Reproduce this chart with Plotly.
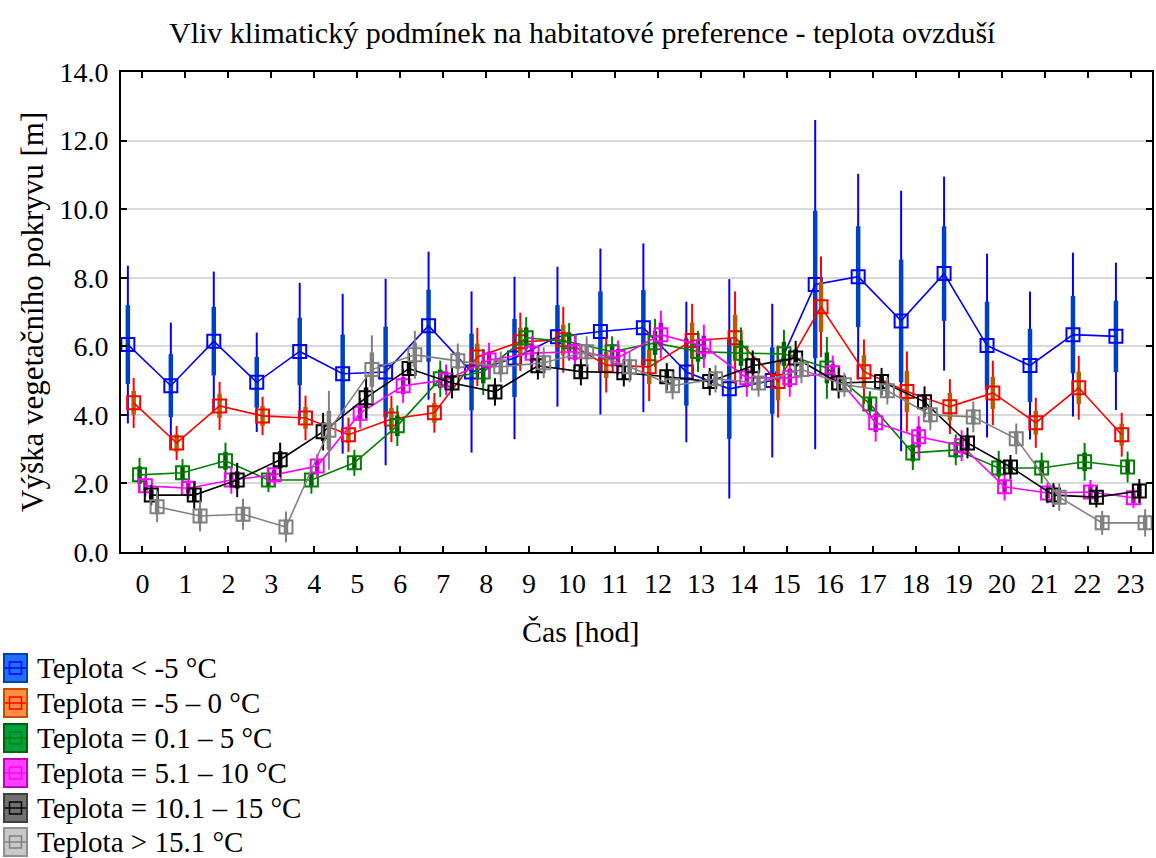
import plotly.graph_objects as go

hours = list(range(24))
tick_labels = [str(h) for h in hours]

series_names = ["Teplota < -5 °C", "Teplota = -5 – 0 °C", "Teplota = 0.1 – 5 °C",
                "Teplota = 5.1 – 10 °C", "Teplota = 10.1 – 15 °C", "Teplota > 15.1 °C"]

blue_mean = [6.05, 4.85, 6.15, 4.95, 5.85, 5.2, 5.25, 6.6, 5.25, 5.66, 6.28, 6.43,
             6.54, 5.25, 4.76, 5.0, 7.8, 8.03, 6.74, 8.12, 6.02, 5.44, 6.34, 6.29]
blue_se = [1.15, 0.92, 1.0, 0.74, 0.98, 1.14, 1.32, 1.05, 1.12, 1.14, 0.92, 1.17,
           1.1, 0.98, 1.46, 0.97, 2.15, 1.47, 1.79, 1.38, 1.28, 1.07, 1.13, 1.04]
blue_ci = [2.3, 1.84, 2.03, 1.45, 2.0, 2.33, 2.72, 2.16, 2.35, 2.37, 2.04, 2.42,
           2.46, 2.05, 3.2, 2.24, 4.8, 3.0, 3.8, 2.83, 2.68, 2.16, 2.39, 2.15]

red_mean = [4.35, 3.18, 4.26, 3.97, 3.91, 3.42, 3.88, 4.06, 5.69, 6.13, 6.19, 5.45,
            5.4, 6.17, 6.25, 4.97, 7.15, 5.26, 4.68, 4.24, 4.64, 3.77, 4.79, 3.42]
red_se = [0.35, 0.25, 0.35, 0.29, 0.32, 0.24, 0.32, 0.29, 0.39, 0.41, 0.44, 0.38,
          0.5, 0.52, 0.67, 0.55, 0.73, 0.48, 0.6, 0.4, 0.47, 0.35, 0.47, 0.32]
red_ci = [0.73, 0.5, 0.7, 0.56, 0.65, 0.5, 0.68, 0.58, 0.85, 0.85, 0.96, 0.8,
          1.0, 1.07, 1.35, 1.05, 1.47, 0.94, 1.17, 0.8, 0.94, 0.73, 0.93, 0.64]

green_mean = [2.25, 2.31, 2.66, 2.1, 2.1, 2.6, 3.68, 5.05, 5.25, 6.25, 6.13, 5.84,
              6.1, 5.85, 5.8, 5.78, 5.37, 4.32, 2.89, 2.98, 2.45, 2.45, 2.63, 2.48]
green_se = [0.25, 0.2, 0.26, 0.17, 0.2, 0.19, 0.3, 0.27, 0.33, 0.3, 0.27, 0.22,
            0.35, 0.3, 0.37, 0.35, 0.45, 0.18, 0.25, 0.22, 0.25, 0.22, 0.27, 0.22]
green_ci = [0.5, 0.4, 0.53, 0.35, 0.4, 0.38, 0.59, 0.53, 0.67, 0.6, 0.55, 0.45,
            0.7, 0.6, 0.75, 0.7, 0.9, 0.37, 0.5, 0.45, 0.5, 0.45, 0.55, 0.45]

magenta_mean = [1.93, 1.86, 2.1, 2.25, 2.51, 4.05, 4.85, 5.02, 5.6, 5.8, 5.84, 5.67,
                6.34, 6.0, 5.08, 5.08, 5.23, 3.77, 3.36, 3.1, 1.9, 1.72, 1.75, 1.58]
magenta_se = [0.15, 0.15, 0.2, 0.15, 0.17, 0.22, 0.25, 0.22, 0.25, 0.25, 0.25, 0.25,
              0.35, 0.31, 0.27, 0.27, 0.25, 0.27, 0.3, 0.22, 0.2, 0.15, 0.17, 0.15]
magenta_ci = [0.3, 0.3, 0.4, 0.3, 0.35, 0.45, 0.5, 0.45, 0.5, 0.5, 0.5, 0.5,
              0.7, 0.63, 0.55, 0.55, 0.5, 0.55, 0.6, 0.45, 0.4, 0.3, 0.35, 0.3]

black_mean = [1.66, 1.66, 2.1, 2.69, 3.51, 4.5, 5.35, 4.93, 4.67, 5.43, 5.26, 5.23,
              5.11, 4.97, 5.43, 5.66, 4.93, 4.97, 4.38, 3.18, 2.48, 1.66, 1.6, 1.78]
black_se = [0.15, 0.2, 0.25, 0.25, 0.27, 0.3, 0.22, 0.22, 0.2, 0.2, 0.2, 0.2,
            0.2, 0.2, 0.22, 0.25, 0.22, 0.2, 0.22, 0.22, 0.17, 0.17, 0.15, 0.17]
black_ci = [0.3, 0.4, 0.5, 0.5, 0.55, 0.6, 0.45, 0.45, 0.4, 0.4, 0.4, 0.4,
            0.4, 0.4, 0.45, 0.5, 0.45, 0.4, 0.45, 0.45, 0.35, 0.35, 0.3, 0.35]

gray_mean = [1.32, 1.05, 1.1, 0.73, 3.55, 5.32, 5.75, 5.58, 5.4, 5.52, 5.84, 5.4,
             4.85, 5.05, 4.93, 5.32, 4.88, 4.7, 4.0, 3.94, 3.3, 1.6, 0.85, 0.85]
gray_se = [0.22, 0.22, 0.22, 0.22, 0.57, 0.5, 0.35, 0.25, 0.22, 0.22, 0.22, 0.22,
           0.2, 0.2, 0.2, 0.2, 0.17, 0.2, 0.22, 0.22, 0.22, 0.2, 0.17, 0.2]
gray_ci = [0.45, 0.45, 0.45, 0.45, 1.15, 1.0, 0.7, 0.5, 0.45, 0.45, 0.45, 0.45,
           0.4, 0.4, 0.4, 0.4, 0.35, 0.4, 0.45, 0.45, 0.45, 0.4, 0.35, 0.4]

means = [blue_mean, red_mean, green_mean, magenta_mean, black_mean, gray_mean]
ses = [blue_se, red_se, green_se, magenta_se, black_se, gray_se]
cis = [blue_ci, red_ci, green_ci, magenta_ci, black_ci, gray_ci]

line_colors = ["#0000FF", "#FF0000", "#008000", "#FF00FF", "#000000", "#808080"]
inner_colors = ["#0040C8", "#B85C00", "#006000", "#C000C0", "#000000", "#808080"]
legend_fill = ["#1E6EFF", "#FF8C40", "#00A040", "#FF40FF", "#707070", "#C8C8C8"]
legend_border = ["#0040B0", "#C05000", "#006400", "#C000C0", "#404040", "#909090"]

offsets = [-0.34, -0.205, -0.068, 0.068, 0.205, 0.34]

FONT = "Times New Roman, Liberation Serif, serif"
fig = go.Figure()

for k in range(6):
    xs = [h + offsets[k] for h in hours]
    fig.add_trace(go.Scatter(
        x=xs, y=means[k], mode="markers", showlegend=False, hoverinfo="skip",
        marker=dict(size=1, color="rgba(0,0,0,0)"),
        error_y=dict(type="data", array=cis[k], visible=True, width=0,
                     thickness=2, color=line_colors[k])))
    fig.add_trace(go.Scatter(
        x=xs, y=means[k], mode="markers", showlegend=False, hoverinfo="skip",
        marker=dict(size=1, color="rgba(0,0,0,0)"),
        error_y=dict(type="data", array=ses[k], visible=True, width=0,
                     thickness=4.5, color=inner_colors[k])))
    fig.add_trace(go.Scatter(
        x=xs, y=means[k], mode="lines+markers", name=series_names[k],
        showlegend=False,
        line=dict(color=line_colors[k], width=1.6),
        marker=dict(symbol="square-open", size=13, color=line_colors[k],
                    line=dict(width=2, color=line_colors[k]))))

# plot area geometry (pixels)
L, R, T, B = 121, 4, 72, 306
W, H = 1156, 858
PW = W - L - R
PH = H - T - B


def px(xp):
    return (xp - L) / PW


def py(yp):
    return (H - B - yp) / PH


shapes = []
annotations = []
row_y = [668, 703, 738, 773, 808, 842]
for k in range(6):
    yc = row_y[k]
    shapes.append(dict(type="rect", xref="paper", yref="paper",
                       x0=px(4), x1=px(27), y0=py(yc - 14), y1=py(yc + 14),
                       fillcolor=legend_fill[k], line=dict(color=legend_border[k], width=2)))
    shapes.append(dict(type="line", xref="paper", yref="paper",
                       x0=px(5), x1=px(26), y0=py(yc), y1=py(yc),
                       line=dict(color=line_colors[k], width=1.5)))
    shapes.append(dict(type="rect", xref="paper", yref="paper",
                       x0=px(9.5), x1=px(21.5), y0=py(yc - 6), y1=py(yc + 6),
                       fillcolor="rgba(0,0,0,0)", line=dict(color=line_colors[k], width=1.5)))
    annotations.append(dict(xref="paper", yref="paper", x=px(35), y=py(yc),
                            xanchor="left", yanchor="middle", showarrow=False,
                            text=series_names[k],
                            font=dict(family=FONT, size=29, color="black")))

annotations.append(dict(xref="paper", yref="paper", x=px(32), y=py(312),
                        xanchor="center", yanchor="middle", showarrow=False, textangle=-90,
                        text="Výška vegetačního pokryvu [m]",
                        font=dict(family=FONT, size=31, color="black")))
annotations.append(dict(xref="paper", yref="paper", x=px(580), y=py(631),
                        xanchor="center", yanchor="middle", showarrow=False,
                        text="Čas [hod]",
                        font=dict(family=FONT, size=30, color="black")))
annotations.append(dict(xref="paper", yref="paper", x=px(582), y=py(32),
                        xanchor="center", yanchor="middle", showarrow=False,
                        text="Vliv klimatický podmínek na habitatové preference - teplota ovzduší",
                        font=dict(family=FONT, size=30, color="black")))

fig.update_layout(
    width=W, height=H,
    margin=dict(l=L, r=R, t=T, b=B, autoexpand=False),
    paper_bgcolor="white", plot_bgcolor="white",
    font=dict(family=FONT, size=28, color="black"),
    showlegend=False,
    shapes=shapes, annotations=annotations,
    xaxis=dict(range=[-0.5, 23.5], tickmode="array", tickvals=hours, ticktext=tick_labels,
               showgrid=False, zeroline=False, showline=True, linecolor="black", linewidth=2,
               mirror="ticks", ticks="inside", ticklen=6, tickwidth=2, tickcolor="black",
               tickfont=dict(family=FONT, size=28), ticklabelstandoff=5, automargin=False),
    yaxis=dict(range=[0, 14], dtick=2, tick0=0, tickformat=".1f",
               showgrid=True, gridcolor="#D9D9D9", gridwidth=2, zeroline=False,
               showline=True, linecolor="black", linewidth=2,
               mirror="ticks", ticks="inside", ticklen=6, tickwidth=2, tickcolor="black",
               tickfont=dict(family=FONT, size=28), ticklabelstandoff=5, automargin=False),
)

fig.write_html("out.html", config={"displayModeBar": False},
               post_script="document.body.style.margin='0';document.body.style.overflow='hidden';")
